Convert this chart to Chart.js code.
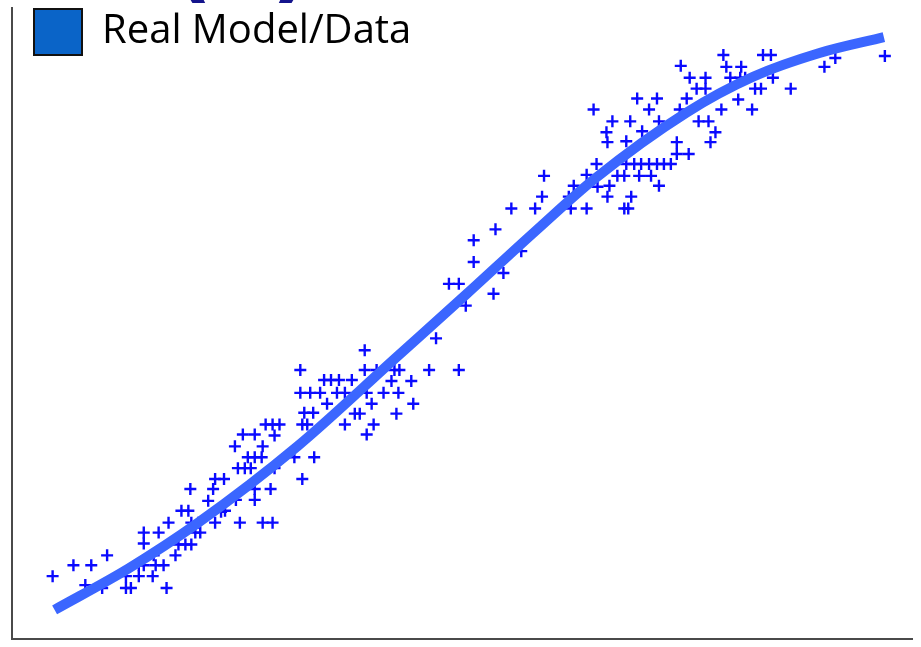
<!DOCTYPE html>
<html>
<head>
<meta charset="utf-8">
<title>Real Model/Data</title>
<script src="https://cdn.jsdelivr.net/npm/chart.js@4/dist/chart.umd.min.js"></script>
<style>
    html, body { margin: 0; padding: 0; background: #ffffff; overflow: hidden; width: 100%; height: 100%; }
    #wrap { width: 100vw; height: 100vh; position: relative; }
</style>
</head>
<body>
<div id="wrap"><canvas id="fitChart"></canvas></div>
<script>
// Observed data (scatter, '+' markers)
const dataX = [
    41, 62, 80, 96, 74, 91, 115, 128, 142, 115, 120, 156, 128, 133, 145, 153, 143, 133, 133, 158,
    148, 171, 178, 168, 175, 181, 165, 185, 190, 181, 205, 198, 215, 211, 188, 230, 253, 263,
    180, 205, 214, 203, 226, 245, 245, 261, 228, 235, 241, 238, 245, 252, 225, 253, 233, 245,
    265, 256, 263, 270, 265, 285, 305, 293, 293, 298, 295, 304,
    291, 356, 356, 368, 386, 391, 421, 451, 428, 315, 322, 330, 343, 383, 403, 291, 301, 311,
    328, 336, 358, 375, 390, 318, 363, 405, 346, 351, 388, 336, 365, 358,
    458, 486, 441, 451, 466, 466, 496, 514, 488, 504, 528, 535, 537, 562, 564, 567, 580, 580,
    590, 591, 603, 601, 618, 622, 625, 611, 618, 633, 645, 653, 620, 628, 635, 643, 651, 658, 665,
    671, 671, 683, 601, 600, 620, 606, 624, 636, 653, 643, 631, 651, 587, 674, 681, 693, 703,
    710, 705, 691, 700, 684, 700, 675, 716, 718, 721, 736, 725, 735, 740, 733, 747, 750, 756,
    768, 758, 766, 786, 820, 831, 881
];
const dataY = [
    63, 74, 74, 84, 54, 51, 63, 63, 63, 51, 51, 51, 74, 74, 74, 74, 84, 107, 96, 117,
    107, 129, 129, 95, 95, 95, 84, 107, 107, 117, 117, 139, 129, 128, 117, 117, 117, 117,
    151, 161, 161, 151, 140, 140, 151, 151, 172, 172, 172, 183, 183, 183, 194, 194, 206, 206,
    205, 216, 216, 216, 172, 183, 183, 161, 216, 216, 228, 228,
    271, 291, 271, 271, 271, 271, 271, 271, 303, 261, 261, 261, 261, 260, 260, 248, 248, 248,
    248, 248, 248, 248, 248, 237, 237, 237, 227, 227, 227, 216, 216, 206,
    336, 348, 358, 358, 380, 402, 369, 391, 413, 434, 434, 446, 467, 446, 434, 457, 434, 468,
    479, 456, 457, 446, 434, 434, 446, 467, 467, 467, 467, 457, 479, 479, 479, 479, 479, 479, 479,
    501, 489, 489, 501, 511, 502, 522, 522, 512, 522, 534, 545, 545, 534, 534, 545, 522, 522,
    511, 501, 555, 555, 566, 566, 578, 534, 589, 577, 577, 566, 566, 566, 544, 534, 555, 555,
    566, 589, 589, 555, 577, 586, 588
];

// Fitted model curve
const modelX = [43, 118, 188, 288, 388, 458, 528, 588, 681, 748, 815, 880];
const modelY = [29, 71, 117, 194, 284, 347, 411, 464, 531, 567, 591, 607];

const legendLabel = 'Real Model/Data';
const panelLabel = '(a)';

// Draws the (cut off) panel label above the plot
const panelLabelPlugin = {
    id: 'panelLabel',
    afterDraw(chart) {
        const ctx = chart.ctx;
        ctx.save();
        ctx.fillStyle = '#14148c';
        ctx.font = 'bold 88px "DejaVu Sans"';
        ctx.textAlign = 'center';
        ctx.textBaseline = 'alphabetic';
        ctx.fillText(panelLabel, 242, -9);
        ctx.restore();
    }
};

// Nudges the in-plot legend a little right and up
const legendNudge = {
    id: 'legendNudge',
    afterLayout(chart) {
        const lg = chart.legend;
        if (!lg) return;
        lg.left += 8; lg.right += 8;
        lg.top -= 5; lg.bottom -= 5;
    }
};

// Axes without ticks: keep only the axis line, no reserved space
function flatAxis(scale) {
    if (scale.isHorizontal()) scale.height = 0; else scale.width = 0;
    scale.paddingLeft = scale.paddingRight = 0;
    scale.paddingTop = scale.paddingBottom = 0;
}

const observed = dataX.map((x, i) => ({ x: x, y: dataY[i] }));
const model = modelX.map((x, i) => ({ x: x, y: modelY[i] }));

const hiddenTicks = { display: false, padding: 0 };
const axisBorder = { display: true, color: '#4a4a4a', width: 2 };

const ctxFit = document.getElementById('fitChart');
new Chart(ctxFit, {
    type: 'scatter',
    data: {
        datasets: [
            {
                label: 'Model',
                type: 'line',
                data: model,
                borderColor: '#3b66ff',
                borderWidth: 10,
                borderCapStyle: 'butt',
                pointRadius: 0,
                cubicInterpolationMode: 'monotone',
                fill: false,
                order: 0
            },
            {
                label: 'Data',
                data: observed,
                pointStyle: 'cross',
                pointRadius: 6,
                borderWidth: 2.4,
                borderColor: '#0a0aff',
                backgroundColor: '#0a0aff',
                order: 1
            }
        ]
    },
    options: {
        responsive: true,
        maintainAspectRatio: false,
        animation: false,
        layout: { padding: { left: 12, top: 8, right: 0, bottom: 3 } },
        scales: {
            x: {
                type: 'linear',
                min: 0,
                max: 909,
                ticks: hiddenTicks,
                grid: { display: false, drawTicks: false },
                border: axisBorder,
                afterFit: flatAxis
            },
            y: {
                min: 0,
                max: 636,
                ticks: hiddenTicks,
                grid: { display: false, drawTicks: false },
                border: axisBorder,
                afterFit: flatAxis
            }
        },
        plugins: {
            tooltip: { enabled: false },
            legend: {
                position: 'chartArea',
                align: 'start',
                labels: {
                    boxWidth: 48,
                    boxHeight: 46,
                    padding: 14,
                    color: '#1e1e1e',
                    font: { family: '"Open Sans", "Noto Sans", sans-serif', size: 40 },
                    generateLabels: () => [{
                        text: legendLabel,
                        fillStyle: '#0a64c8',
                        strokeStyle: '#111111',
                        lineWidth: 2,
                        hidden: false,
                        datasetIndex: 1
                    }]
                }
            }
        }
    },
    plugins: [panelLabelPlugin, legendNudge]
});
</script>
</body>
</html>
